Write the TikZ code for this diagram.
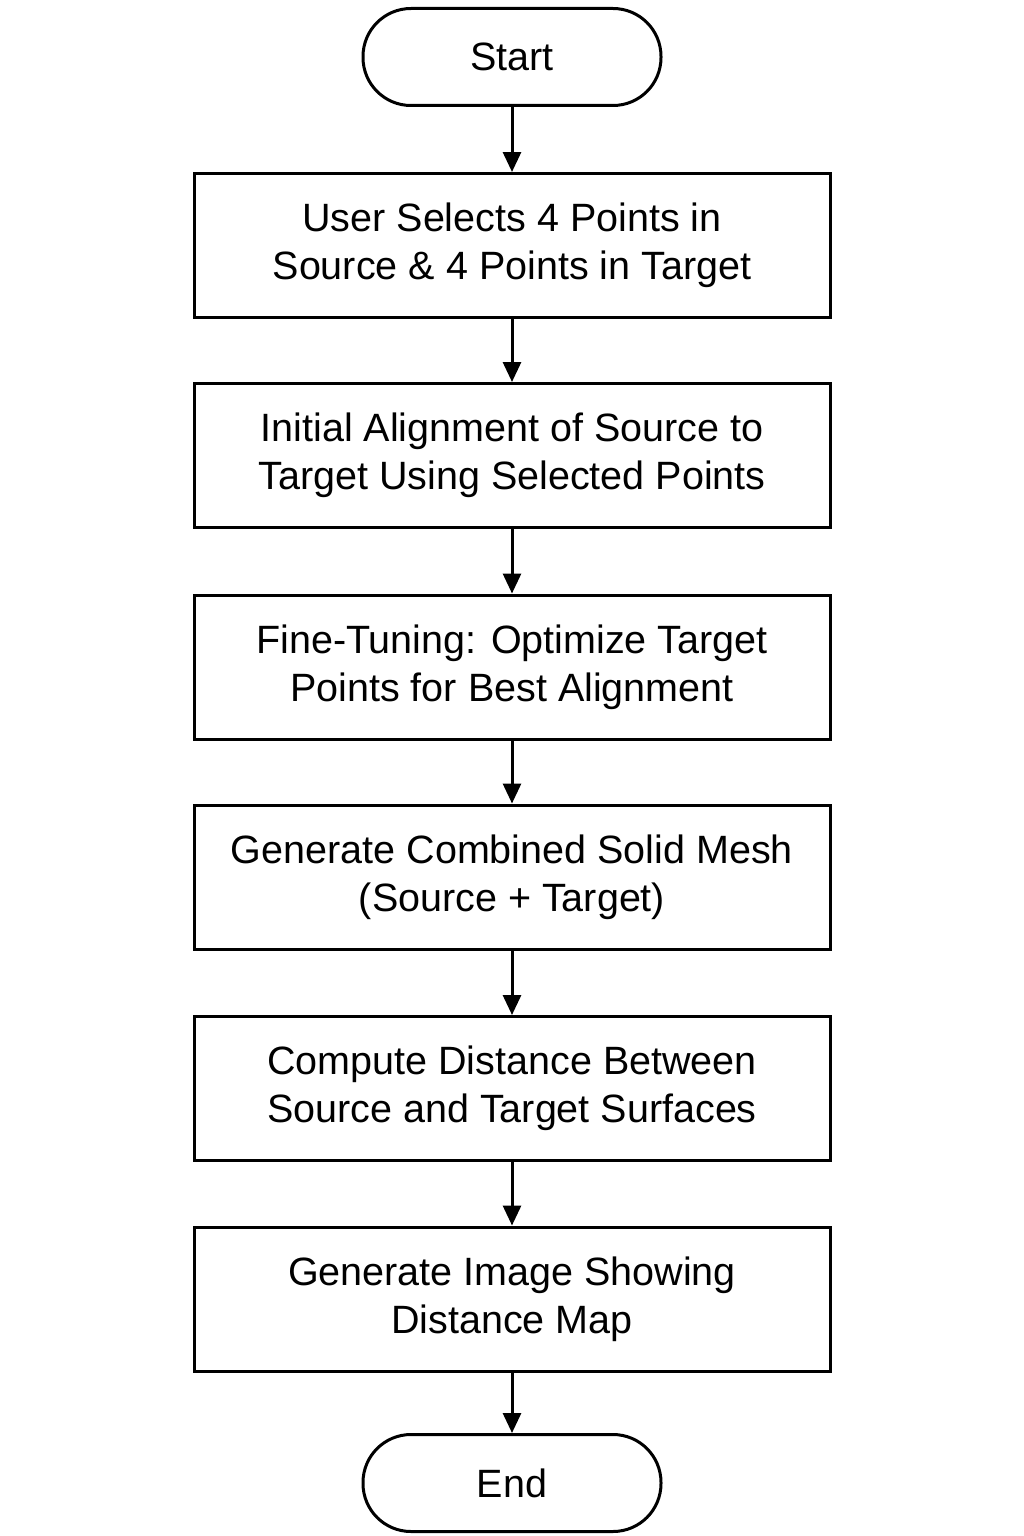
\documentclass[tikz,border=0pt]{standalone}
\usepackage{fontspec}
\setmainfont{Liberation Sans}
\usetikzlibrary{arrows.meta}
\tikzset{
  procbox/.style={draw, line width=3pt, minimum width=636pt, minimum height=144pt, align=center, inner sep=0pt, font=\fontsize{39.5}{48}\selectfont},
  termbox/.style={draw, line width=3pt, rounded corners=48pt, minimum width=298pt, minimum height=97pt, inner sep=0pt, font=\fontsize{39.5}{48}\selectfont},
  flow/.style={line width=3pt, -{Triangle[width=18pt,length=20pt]}}
}
\begin{document}
\begin{tikzpicture}[x=1pt,y=-1pt]
\useasboundingbox[fill=white] (0,0) rectangle (1024,1536);
\node[termbox] (start) at (512,57) {Start};
\node[procbox] (b1) at (512,245.5) {User Selects 4 Points in\\Source \& 4 Points in Target};
\node[procbox] (b2) at (512,455.5) {Initial Alignment of Source to\\Target Using Selected Points};
\node[procbox] (b3) at (512,667) {Fine-Tuning: Optimize Target\\Points for Best Alignment};
\node[procbox] (b4) at (512,877) {Generate Combined Solid Mesh\\(Source + Target)};
\node[procbox] (b5) at (512,1088.5) {Compute Distance Between\\Source and Target Surfaces};
\node[procbox] (b6) at (512,1299) {Generate Image Showing\\Distance Map};
\node[termbox] (end) at (512,1483) {End};
\draw[flow] (start) -- (b1);
\draw[flow] (b1) -- (b2);
\draw[flow] (b2) -- (b3);
\draw[flow] (b3) -- (b4);
\draw[flow] (b4) -- (b5);
\draw[flow] (b5) -- (b6);
\draw[flow] (b6) -- (end);
\end{tikzpicture}
\end{document}
